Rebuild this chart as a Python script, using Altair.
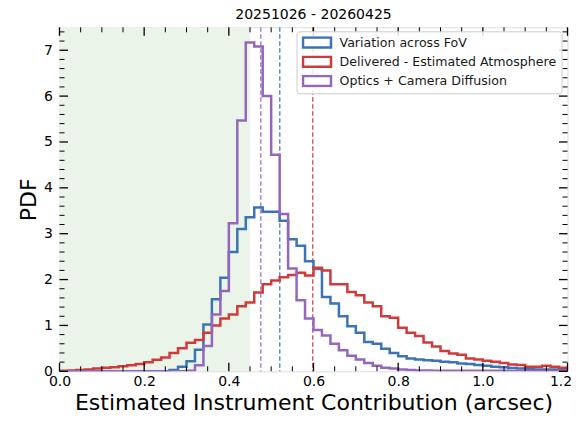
import altair as alt
import pandas as pd

# ---------------- data ----------------
bin_edges = [round(i * 0.02, 2) for i in range(61)]  # 60 bins of width 0.02 from 0 to 1.2

series_names = ["Variation across FoV", "Delivered - Estimated Atmosphere", "Optics + Camera Diffusion"]
series_colors = ["#3a74b2", "#d13a3a", "#9467bd"]

fov_pdf = [0, 0, 0, 0, 0, 0, 0, 0, 0, 0,
           0, 0, 0, 0.03, 0.10, 0.22, 0.47, 1.02, 1.57, 2.04,
           2.60, 3.10, 3.36, 3.57, 3.48, 3.48, 3.28, 2.88, 2.74, 2.40,
           2.23, 1.62, 1.48, 1.20, 0.98, 0.84, 0.64, 0.60, 0.49, 0.40,
           0.33, 0.28, 0.26, 0.24, 0.23, 0.21, 0.20, 0.17, 0.16, 0.14,
           0.12, 0.10, 0.09, 0.07, 0.06, 0.05, 0.04, 0.04, 0.04, 0.03]

delivered_pdf = [0.01, 0.02, 0.03, 0.04, 0.06, 0.08, 0.09, 0.11, 0.13, 0.16,
                 0.20, 0.25, 0.30, 0.40, 0.50, 0.62, 0.68, 0.84, 1.00, 1.15,
                 1.24, 1.42, 1.50, 1.72, 1.90, 1.98, 2.05, 2.10, 2.15, 2.09,
                 2.26, 2.20, 1.90, 1.90, 1.73, 1.66, 1.50, 1.42, 1.20, 1.17,
                 0.95, 0.84, 0.77, 0.63, 0.54, 0.44, 0.39, 0.36, 0.28, 0.26,
                 0.23, 0.21, 0.18, 0.15, 0.14, 0.10, 0.10, 0.12, 0.10, 0.08]

optics_pdf = [0, 0, 0, 0, 0, 0, 0, 0, 0, 0,
              0, 0, 0, 0, 0, 0.01, 0.13, 0.55, 1.24, 1.75,
              3.23, 5.47, 7.17, 7.08, 6.00, 4.72, 3.43, 2.24, 1.55, 1.15,
              0.90, 0.78, 0.60, 0.46, 0.34, 0.26, 0.18, 0.12, 0.08, 0.06,
              0.04, 0.03, 0.02, 0.02, 0.01, 0.01, 0.01, 0.01, 0.01, 0.01,
              0.01, 0.01, 0.01, 0.005, 0.005, 0.005, 0.005, 0.005, 0.005, 0.005]

median_values = [0.5204, 0.5983, 0.4756]
shade_start = [0.0]
shade_end = [0.45]

x_major = [0.0, 0.2, 0.4, 0.6, 0.8, 1.0, 1.2]
x_minor = [0.05, 0.1, 0.15, 0.25, 0.3, 0.35, 0.45, 0.5, 0.55, 0.65, 0.7, 0.75,
           0.85, 0.9, 0.95, 1.05, 1.1, 1.15]
y_major = [0, 1, 2, 3, 4, 5, 6, 7]
y_minor = [round(v * 0.2, 1) for v in range(38) if v % 5 != 0]

title_text = "20251026 - 20260425"
x_title = "Estimated Instrument Contribution (arcsec)"
y_title = "PDF"

# ---------------- build ----------------
W, H = 508, 344
FONT = "DejaVu Sans"

rows = []
for name, vals in zip(series_names, [fov_pdf, delivered_pdf, optics_pdf]):
    for e, v in zip(bin_edges, vals + [vals[-1]]):
        rows.append({"series": name, "edge": e, "pdf": v})
hist_df = pd.DataFrame(rows)

xscale = alt.Scale(domain=[0, 1.2], nice=False, zero=False)
yscale = alt.Scale(domain=[0, 7.5], nice=False, zero=False)
color_scale = alt.Scale(domain=series_names, range=series_colors)

x_axis = alt.Axis(values=x_major, format=".1f", title=x_title, ticks=False, domain=False,
                  grid=False, labelFontSize=14, labelPadding=3, titleFontSize=22,
                  titleBaseline="alphabetic", titleY=38.5,
                  labelOffset={"condition": {"test": "datum.value >= 1.19", "value": -7}, "value": 0},
                  labelColor="black", titleColor="black",
                  titleFontWeight="normal", labelFlush=False, labelOverlap=False,
                  labelFont=FONT, titleFont=FONT)
y_axis = alt.Axis(values=y_major, format="d", title=y_title, ticks=False, domain=False,
                  grid=False, labelFontSize=14, labelPadding=7, titleFontSize=22,
                  titlePadding=3, labelColor="black", titleColor="black",
                  titleFontWeight="normal", labelOverlap=False, labelFont=FONT, titleFont=FONT)

legend = alt.Legend(title=None, orient="none", legendX=237, legendY=4,
                    symbolType="M-1,-1H4.6V1H-1Z", symbolSize=100,
                    symbolStrokeWidth=2.5, symbolFillColor="white",
                    labelFontSize=12.6, labelFont=FONT, labelColor="#1a1a1a",
                    labelOffset=25, rowPadding=6.2, padding=5, clipHeight=12.6,
                    fillColor="rgba(255,255,255,0.85)", strokeColor="#cccccc",
                    cornerRadius=3, labelLimit=400)


def X(field):
    return alt.X(field, scale=xscale, axis=x_axis)


def Y(field):
    return alt.Y(field, scale=yscale, axis=y_axis)


shade = alt.Chart(pd.DataFrame({"x0": shade_start, "x1": shade_end})).mark_rect(
    color="#ebf4e9").encode(
    x=X("x0:Q"), x2="x1:Q", y=alt.value(0), y2=alt.value(H))

layers = [shade]

for name, col, med in zip(series_names, series_colors, median_values):
    layers.append(
        alt.Chart(pd.DataFrame({"median": [med]})).mark_rule(
            strokeDash=[4.5, 2.5], strokeWidth=1.2, color=col).encode(x=X("median:Q"))
    )

for name in series_names:
    layers.append(
        alt.Chart(hist_df).transform_filter(alt.datum.series == name).mark_line(
            interpolate="step-after", strokeWidth=2.5, clip=True).encode(
            x=X("edge:Q"), y=Y("pdf:Q"),
            color=alt.Color("series:N", scale=color_scale, legend=legend, sort=series_names))
    )


def xticks(vals, length, width):
    d = pd.DataFrame({"t": vals})
    bottom = alt.Chart(d).mark_rule(color="black", strokeWidth=width).encode(
        x=X("t:Q"), y=alt.value(H), y2=alt.value(H - length))
    top = alt.Chart(d).mark_rule(color="black", strokeWidth=width).encode(
        x=X("t:Q"), y=alt.value(0), y2=alt.value(length))
    return [bottom, top]


def yticks(vals, length, width):
    d = pd.DataFrame({"t": vals})
    left = alt.Chart(d).mark_rule(color="black", strokeWidth=width).encode(
        y=Y("t:Q"), x=alt.value(0), x2=alt.value(length))
    right = alt.Chart(d).mark_rule(color="black", strokeWidth=width).encode(
        y=Y("t:Q"), x=alt.value(W), x2=alt.value(W - length))
    return [left, right]


layers += xticks(x_major, 8.5, 1.3) + xticks(x_minor, 5, 1.0)
layers += yticks(y_major, 8.5, 1.3) + yticks(y_minor, 5, 1.0)

chart = alt.layer(*layers).properties(
    width=W, height=H,
    title=alt.TitleParams(title_text, fontSize=14, font=FONT, fontWeight="normal",
                          offset=4.5, anchor="middle", color="black"),
    autosize=alt.AutoSizeParams(type="none"),
    padding={"left": 51.5, "top": 19.3, "right": 4.5, "bottom": 42.7},
).configure_view(stroke="black", strokeWidth=1.2).configure(font=FONT)

chart.save("out.html", embed_options={"renderer": "svg", "actions": False})
